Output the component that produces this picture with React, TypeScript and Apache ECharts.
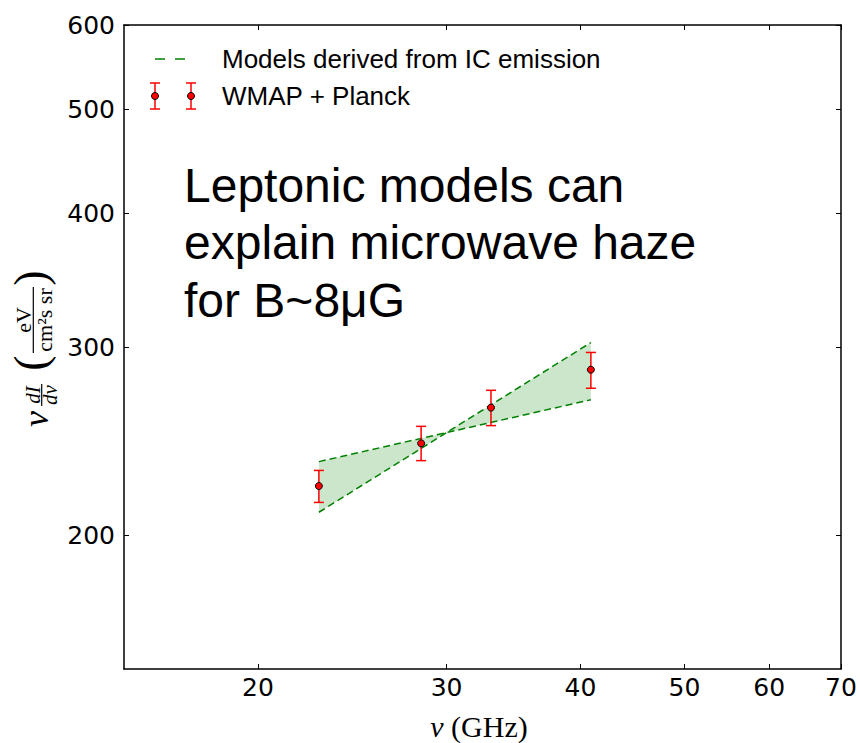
import React, { useEffect, useRef } from "react";
import * as echarts from "echarts";

// ---- data ----
const freqGHz = [22.8, 28.4, 33.0, 40.9];
const intensity = [222.4, 243.8, 263.3, 285.7];
const errLow = [214.7, 234.9, 253.3, 274.5];
const errHigh = [230.0, 252.9, 273.3, 296.5];
const modelFreq = [22.8, 40.9];
const modelShallow = [234.4, 267.8];
const modelSteep = [210.2, 302.9];
const xTicks = [20, 30, 40, 50, 60, 70];
const yTicks = [200, 300, 400, 500, 600];
const xRange = [15, 70];
const yRange = [150, 600];

const lg = (v: number) => Math.log10(v);
const SANS = "Liberation Sans, Arial, Helvetica, sans-serif";
const TICKFONT = "DejaVu Sans, Liberation Sans, sans-serif";
const SERIF = "Liberation Serif, Times New Roman, serif";

function makeXAxis(position: "bottom" | "top", showLabels: boolean) {
  return {
    type: "value",
    position,
    min: lg(xRange[0]),
    max: lg(xRange[1]),
    axisLine: { show: true, onZero: false, lineStyle: { color: "#000", width: 1.5 } },
    axisTick: {
      show: true,
      inside: true,
      length: 5,
      customValues: xTicks.map(lg),
      lineStyle: { color: "#000", width: 1 },
    },
    axisLabel: {
      show: showLabels,
      customValues: xTicks.map(lg),
      formatter: (v: number) => String(Math.round(Math.pow(10, v))),
      fontSize: 25,
      color: "#000",
      fontFamily: TICKFONT,
      margin: 6,
    },
    splitLine: { show: false },
  };
}

function makeYAxis(position: "left" | "right", showLabels: boolean) {
  return {
    type: "value",
    position,
    min: lg(yRange[0]),
    max: lg(yRange[1]),
    axisLine: { show: true, onZero: false, lineStyle: { color: "#000", width: 1.5 } },
    axisTick: {
      show: true,
      inside: true,
      length: 5,
      customValues: yTicks.map(lg),
      lineStyle: { color: "#000", width: 1 },
    },
    axisLabel: {
      show: showLabels,
      customValues: yTicks.map(lg),
      formatter: (v: number) => String(Math.round(Math.pow(10, v))),
      fontSize: 25,
      color: "#000",
      fontFamily: TICKFONT,
      margin: 9,
    },
    splitLine: { show: false },
  };
}

function errIcon(cx: number, cy: number) {
  const red = { stroke: "#ff0000", lineWidth: 1.5 };
  return [
    { type: "line", shape: { x1: cx, y1: cy - 13, x2: cx, y2: cy + 13 }, style: red },
    { type: "line", shape: { x1: cx - 5, y1: cy - 13, x2: cx + 5, y2: cy - 13 }, style: red },
    { type: "line", shape: { x1: cx - 5, y1: cy + 13, x2: cx + 5, y2: cy + 13 }, style: red },
    { type: "circle", shape: { cx, cy, r: 3.5 }, style: { fill: "#ff0000", stroke: "#000", lineWidth: 1 } },
  ];
}

function serifText(text: string, x: number, y: number, size: number, italic = false) {
  return {
    type: "text",
    x,
    y,
    style: {
      text,
      font: `${italic ? "italic " : ""}${size}px ${SERIF}`,
      fill: "#000",
      align: "center",
      verticalAlign: "middle",
    },
  };
}

export default function App() {
  const ref = useRef<HTMLDivElement>(null);

  useEffect(() => {
    if (!ref.current) return;
    const chart = echarts.init(ref.current, null, { renderer: "svg" });

    const option: any = {
      animation: false,
      backgroundColor: "#fff",
      grid: { left: 124, right: 19, top: 25, bottom: 74, containLabel: false },
      xAxis: [makeXAxis("bottom", true), makeXAxis("top", false)],
      yAxis: [makeYAxis("left", true), makeYAxis("right", false)],
      series: [
        {
          name: "band",
          type: "custom",
          silent: true,
          z: 1,
          data: [[lg(modelFreq[0]), lg(modelShallow[0])]],
          encode: { x: 0, y: 1 },
          renderItem: (_p: any, api: any) => {
            const a0 = api.coord([lg(modelFreq[0]), lg(modelShallow[0])]);
            const a1 = api.coord([lg(modelFreq[1]), lg(modelShallow[1])]);
            const b1 = api.coord([lg(modelFreq[1]), lg(modelSteep[1])]);
            const b0 = api.coord([lg(modelFreq[0]), lg(modelSteep[0])]);
            return {
              type: "polygon",
              shape: { points: [a0, a1, b1, b0] },
              style: { fill: "rgba(0,128,0,0.2)", stroke: "none" },
            };
          },
        },
        {
          name: "Models derived from IC emission",
          type: "line",
          z: 2,
          symbol: "none",
          data: modelFreq.map((f, i) => [lg(f), lg(modelShallow[i])]),
          lineStyle: { color: "#008000", width: 1.5, type: [7, 4] },
        },
        {
          name: "Models derived from IC emission (2)",
          type: "line",
          z: 2,
          symbol: "none",
          data: modelFreq.map((f, i) => [lg(f), lg(modelSteep[i])]),
          lineStyle: { color: "#008000", width: 1.5, type: [7, 4] },
        },
        {
          name: "errors",
          type: "custom",
          z: 3,
          data: freqGHz.map((f, i) => [lg(f), lg(errLow[i]), lg(errHigh[i])]),
          encode: { x: 0, y: [1, 2] },
          renderItem: (_p: any, api: any) => {
            const lo = api.coord([api.value(0), api.value(1)]);
            const hi = api.coord([api.value(0), api.value(2)]);
            const w = 5;
            const st = { stroke: "#ff0000", lineWidth: 1.5 };
            return {
              type: "group",
              children: [
                { type: "line", shape: { x1: lo[0], y1: lo[1], x2: hi[0], y2: hi[1] }, style: st },
                { type: "line", shape: { x1: lo[0] - w, y1: lo[1], x2: lo[0] + w, y2: lo[1] }, style: st },
                { type: "line", shape: { x1: hi[0] - w, y1: hi[1], x2: hi[0] + w, y2: hi[1] }, style: st },
              ],
            };
          },
        },
        {
          name: "WMAP + Planck",
          type: "scatter",
          z: 4,
          symbol: "circle",
          symbolSize: 7,
          data: freqGHz.map((f, i) => [lg(f), lg(intensity[i])]),
          itemStyle: { color: "#ff0000", borderColor: "#000", borderWidth: 1, opacity: 1 },
        },
      ],
      graphic: [
        // legend
        {
          type: "line",
          shape: { x1: 155, y1: 59, x2: 185, y2: 59 },
          style: { stroke: "#008000", lineWidth: 1.5, lineDash: [10, 10] },
        },
        {
          type: "text",
          x: 222,
          y: 59,
          style: { text: "Models derived from IC emission", font: `26px ${SANS}`, fill: "#000", verticalAlign: "middle", align: "left" },
        },
        ...errIcon(155, 96),
        ...errIcon(191, 96),
        {
          type: "text",
          x: 222,
          y: 96,
          style: { text: "WMAP + Planck", font: `26px ${SANS}`, fill: "#000", verticalAlign: "middle", align: "left" },
        },
        // annotation
        {
          type: "text",
          x: 184,
          y: 185.5,
          style: { text: "Leptonic models can", font: `48px ${SANS}`, fill: "#000", verticalAlign: "middle", align: "left" },
        },
        {
          type: "text",
          x: 184,
          y: 242.5,
          style: { text: "explain microwave haze", font: `48px ${SANS}`, fill: "#000", verticalAlign: "middle", align: "left" },
        },
        {
          type: "text",
          x: 184,
          y: 300,
          style: { text: "for B~8μG", font: `48px ${SANS}`, fill: "#000", verticalAlign: "middle", align: "left" },
        },
        // x axis title
        {
          type: "text",
          x: 479,
          y: 726,
          style: {
            text: "{i|ν} (GHz)",
            font: `30px ${SERIF}`,
            fill: "#000",
            align: "center",
            verticalAlign: "middle",
            rich: { i: { fontStyle: "italic", fontSize: 30, fontFamily: SERIF } },
          },
        },
        // y axis title: ν dI/dν (eV / cm² s sr), rotated
        {
          type: "group",
          x: 40,
          y: 430,
          rotation: Math.PI / 2,
          children: [
            { ...serifText("ν", 11, -4, 36, true) },
            { ...serifText("dI", 35, -7, 21, true) },
            { type: "line", shape: { x1: 24, y1: 1.7, x2: 46, y2: 1.7 }, style: { stroke: "#000", lineWidth: 1.2 } },
            { ...serifText("dν", 35, 10, 21, true) },
            { ...serifText("(", 67, -10, 46) },
            { ...serifText("eV", 110, -17, 22) },
            { type: "line", shape: { x1: 77, y1: -6.7, x2: 143, y2: -6.7 }, style: { stroke: "#000", lineWidth: 1.2 } },
            { ...serifText("cm²s sr", 110, 4, 22) },
            { ...serifText(")", 152, -10, 46) },
          ],
        },
      ],
    };

    chart.setOption(option);
    return () => chart.dispose();
  }, []);

  return (
    <div
      ref={ref}
      style={{ position: "fixed", left: 0, top: 0, width: 860, height: 743, background: "#fff" }}
    />
  );
}
